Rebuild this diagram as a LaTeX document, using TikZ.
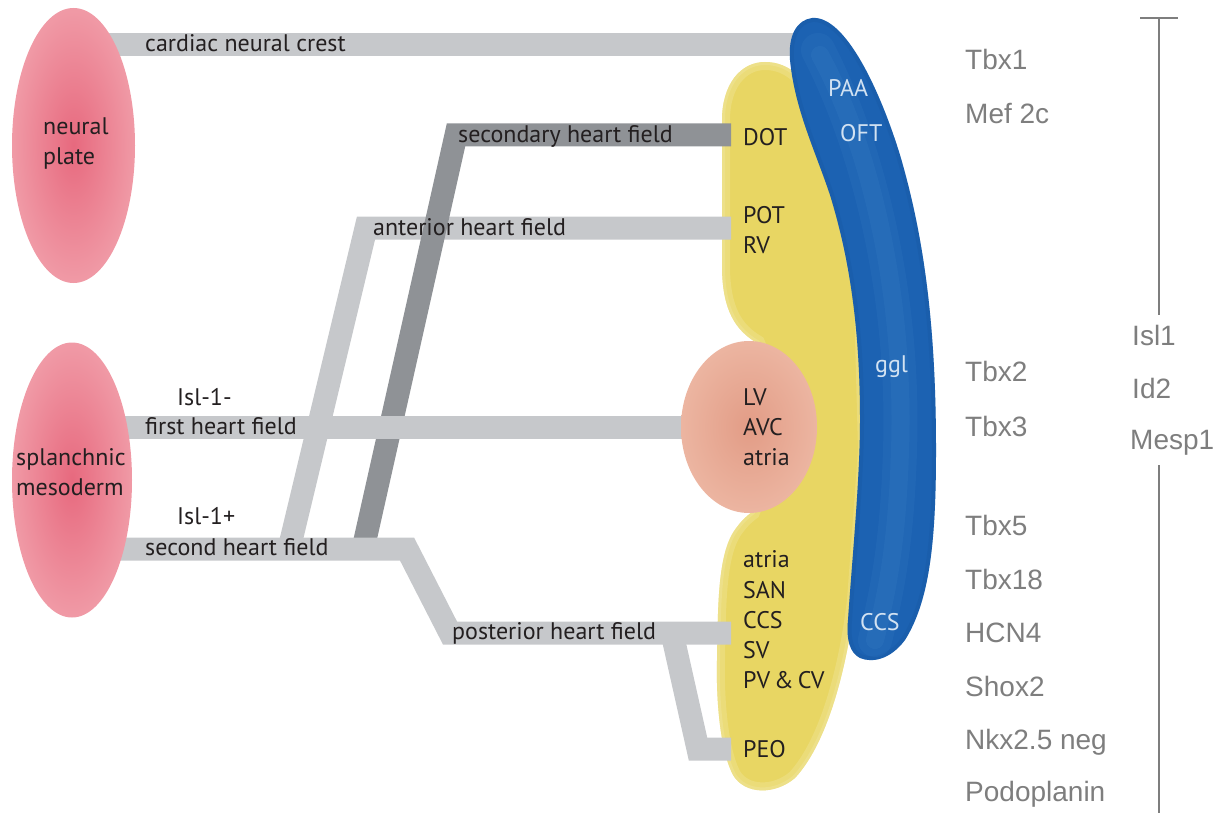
\documentclass[tikz,border=0pt]{standalone}
\usepackage{fontspec}
\setmainfont{PT Sans}
\newfontfamily\genefont{Liberation Sans}
\usetikzlibrary{shapes.geometric}
\definecolor{ink}{HTML}{231F20}
\definecolor{bandlight}{HTML}{C6C8CB}
\definecolor{banddark}{HTML}{8F9296}
\definecolor{genegray}{HTML}{7E7E7E}
\definecolor{pinkin}{HTML}{E7697E}
\definecolor{pinkout}{HTML}{F09AA6}
\definecolor{salmonin}{HTML}{E29C86}
\definecolor{salmonout}{HTML}{ECB5A1}
\definecolor{yel}{HTML}{E8D663}
\definecolor{yellight}{HTML}{F3EAAE}
\definecolor{blu}{HTML}{1C62B2}
\definecolor{bluhi}{HTML}{4B8FD1}
\definecolor{bludark}{HTML}{124F96}
\definecolor{bluetext}{HTML}{D2E2F2}
\begin{document}
\begin{tikzpicture}[x=1pt,y=-1pt,
  band/.style={line width=23pt, line join=miter, draw=bandlight},
  darkband/.style={band, draw=banddark},
  lbl/.style={font=\fontsize{24}{30}\selectfont, text=ink, inner sep=0pt, anchor=base west},
  bluelbl/.style={lbl, text=bluetext},
  gene/.style={font=\genefont\fontsize{28}{32}\selectfont, text=genegray, inner sep=0pt, anchor=base west},
  tissue/.style={ellipse, inner sep=0pt, draw=none}]
\useasboundingbox (0,0) rectangle (1225,813);

\def\yellowpath{(765,62) .. controls (790,62) and (810,80) .. (825,120) -- (862,300) -- (866,450) -- (855,600)
  .. controls (848,660) and (830,740) .. (795,778) .. controls (775,795) and (745,795) .. (733,775)
  .. controls (720,750) and (716,700) .. (717,660) .. controls (718,600) and (718,550) .. (737,527)
  .. controls (742,520) and (748,515) .. (752,512) -- (790,420) -- (757,343)
  .. controls (735,330) and (723,310) .. (722,270) -- (722,120) .. controls (722,85) and (740,62) .. (765,62) -- cycle}
\def\bluepath{(812,18) .. controls (845,15) and (880,90) .. (900,155) .. controls (925,240) and (936,330) .. (936,450)
  .. controls (936,540) and (930,600) .. (905,640) .. controls (890,660) and (872,663) .. (860,658)
  .. controls (850,653) and (846,640) .. (848,620) .. controls (852,560) and (860,480) .. (860,420)
  .. controls (860,330) and (850,260) .. (830,195) .. controls (815,150) and (795,110) .. (790,60)
  .. controls (788,35) and (797,20) .. (812,18) -- cycle}

% yellow heart tube
\fill[yel] \yellowpath;
\begin{scope}
  \clip \yellowpath;
  \draw[yellight, line width=16pt, opacity=.3] \yellowpath;
  \draw[yellight, line width=6pt, opacity=.3] \yellowpath;
\end{scope}

% band coordinates
\coordinate (ncS) at (100,45);   \coordinate (ncE) at (805,45);
\coordinate (ahB) at (289,549);  \coordinate (ahK) at (366,228);  \coordinate (ahE) at (731,228);
\coordinate (shB) at (363,549);  \coordinate (shK) at (456,135);  \coordinate (shE) at (731,135);
\coordinate (fhS) at (100,427);  \coordinate (fhE) at (700,427);
\coordinate (sfS) at (100,549);  \coordinate (sfK) at (407,549);  \coordinate (phK) at (450,633);  \coordinate (phE) at (731,633);
\coordinate (peS) at (672,633);  \coordinate (peK) at (698,749);  \coordinate (peE) at (731,749);

% bands
\draw[band] (ncS) -- (ncE);
\draw[band] (ahB) -- (ahK) -- (ahE);
\draw[darkband] (shB) -- (shK) -- (shE);
\draw[band] (fhS) -- (fhE);
\draw[band] (peS) -- (peK) -- (peE);
\draw[band] (sfS) -- (sfK) -- (phK) -- (phE);

% tissues
\node[tissue, minimum width=123pt, minimum height=275pt, inner color=pinkin, outer color=pinkout] (np) at (73.5,145.5) {};
\node[tissue, minimum width=120pt, minimum height=275pt, inner color=pinkin, outer color=pinkout] (sm) at (72,480) {};
\node[tissue, minimum width=136pt, minimum height=172pt, inner color=salmonin, outer color=salmonout] (lv) at (749,427) {};

% blue neural crest derived tube
\fill[blu] \bluepath;
\begin{scope}
  \clip \bluepath;
  \draw[bludark, line width=8pt, opacity=.2] \bluepath;
  \draw[bluhi, line width=34pt, opacity=.12, line cap=round] (818,50) .. controls (870,150) and (905,300) .. (900,450) .. controls (897,550) and (885,600) .. (875,640);
  \draw[bluhi, line width=18pt, opacity=.14, line cap=round] (820,55) .. controls (872,150) and (905,300) .. (900,450) .. controls (897,550) and (885,600) .. (875,640);
\end{scope}

% labels
\node[lbl] (tcnc) at (145,52) {cardiac neural crest};
\node[lbl] (tnp1) at (43,135) {neural};
\node[lbl] (tnp2) at (43,165) {plate};
\node[lbl] (tsm1) at (16,465) {splanchnic};
\node[lbl] (tsm2) at (16,495) {mesoderm};
\node[lbl] (tim) at (177,405) {Isl-1-};
\node[lbl] (tfh) at (145,434) {first heart field};
\node[lbl] (tip) at (177,524) {Isl-1+};
\node[lbl] (tsf) at (145,555) {second heart field};
\node[lbl] (tsh) at (458,143) {secondary heart field};
\node[lbl] (tah) at (373,235) {anterior heart field};
\node[lbl] (tph) at (452,639) {posterior heart field};

\node[lbl] (tdot) at (743,146) {DOT};
\node[lbl] (tpot) at (743,223) {POT};
\node[lbl] (trv) at (743,253) {RV};
\node[lbl] (tlv) at (743,405) {LV};
\node[lbl] (tavc) at (743,435) {AVC};
\node[lbl] (tat1) at (743,465) {atria};
\node[lbl] (tat2) at (743,567) {atria};
\node[lbl] (tsan) at (743,598) {SAN};
\node[lbl] (tccs) at (743,628) {CCS};
\node[lbl] (tsv) at (743,658) {SV};
\node[lbl] (tpv) at (743,688) {PV\,\&\,CV};
\node[lbl] (tpeo) at (743,757) {PEO};

\node[bluelbl] (tpaa) at (828,97) {PAA};
\node[bluelbl] (toft) at (840,142) {OFT};
\node[bluelbl] (tggl) at (875,372) {ggl};
\node[bluelbl] (tccs2) at (860,630) {CCS};

% gene names
\node[gene] (g1) at (965,70) {Tbx1};
\node[gene] (g2) at (965,124) {Mef 2c};
\node[gene] (g3) at (965,381) {Tbx2};
\node[gene] (g4) at (965,436) {Tbx3};
\node[gene] (g5) at (965,535) {Tbx5};
\node[gene] (g6) at (965,589) {Tbx18};
\node[gene] (g7) at (965,642) {HCN4};
\node[gene] (g8) at (965,696) {Shox2};
\node[gene] (g9) at (965,749) {Nkx2.5 neg};
\node[gene] (g10) at (965,801) {Podoplanin};
\node[gene] (g11) at (1132,345) {Isl1};
\node[gene] (g12) at (1132,398) {Id2};
\node[gene] (g13) at (1130,449) {Mesp1};

% range bar
\coordinate (barT) at (1159,18);
\coordinate (barTL) at (1140,18);
\coordinate (barTR) at (1178,18);
\coordinate (barM1) at (1159,315);
\coordinate (barM2) at (1159,465);
\coordinate (barB) at (1159,813);
\draw[genegray, line width=2pt] (barTL) -- (barTR);
\draw[genegray, line width=2pt] (barT) -- (barM1);
\draw[genegray, line width=2pt] (barM2) -- (barB);
\end{tikzpicture}
\end{document}
